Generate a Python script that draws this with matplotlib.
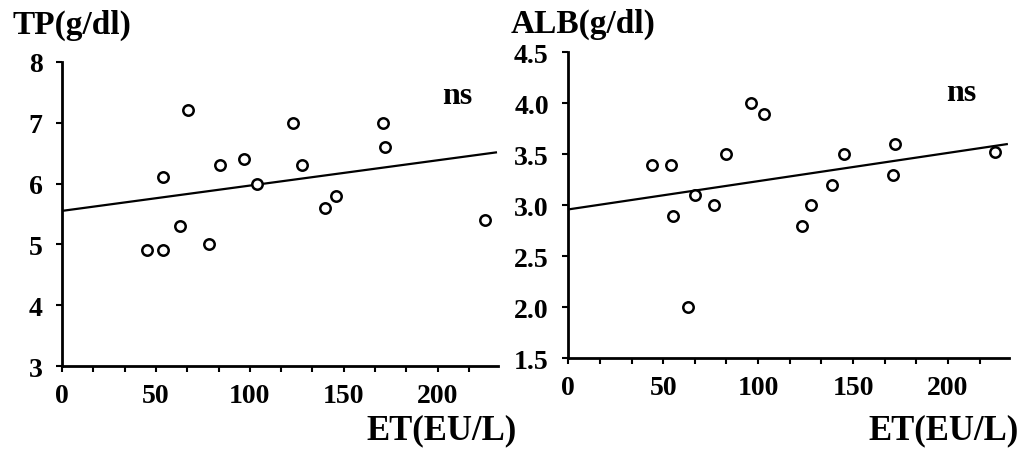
import matplotlib.pyplot as plt
import numpy as np

plt.rcParams['font.family'] = ['Liberation Serif', 'DejaVu Serif']
plt.rcParams['font.weight'] = 'bold'

# ET (EU/L) vs total protein
tp_et = [45, 54, 54, 63, 67, 78, 84, 97, 104, 123, 128, 140, 146, 171, 172, 225]
tp_val = [4.9, 4.9, 6.1, 5.3, 7.2, 5.0, 6.3, 6.4, 6.0, 7.0, 6.3, 5.6, 5.8, 7.0, 6.6, 5.4]
tp_fit = (5.55, 0.00416)  # intercept, slope

# ET (EU/L) vs albumin
alb_et = [44, 54, 55, 63, 67, 77, 83, 96, 103, 123, 128, 139, 145, 171, 172, 225]
alb_val = [3.4, 3.4, 2.9, 2.0, 3.1, 3.0, 3.5, 4.0, 3.9, 2.8, 3.0, 3.2, 3.5, 3.3, 3.6, 3.52]
alb_fit = (2.96, 0.00277)

tp_ticks = [3, 4, 5, 6, 7, 8]
alb_ticks = [1.5, 2.0, 2.5, 3.0, 3.5, 4.0, 4.5]


def draw_panel(ax, et, vals, fit, yticks, ylabels, ns_pos):
    ax.plot(et, vals, 'o', mfc='white', mec='black', ms=7.5, mew=1.8, zorder=3)
    xs = np.array([0, 231])
    ax.plot(xs, fit[0] + fit[1] * xs, color='black', lw=1.6, zorder=2)
    ax.set_xlim(0, 232)
    ax.set_ylim(yticks[0], yticks[-1])
    xt = np.arange(0, 232, 50 / 3)
    ax.set_xticks(xt)
    ax.set_xticklabels([str(int(round(t))) if i % 3 == 0 else '' for i, t in enumerate(xt)])
    ax.set_yticks(yticks)
    ax.set_yticklabels(ylabels)
    for side in ['top', 'right']:
        ax.spines[side].set_visible(False)
    for side in ['left', 'bottom']:
        ax.spines[side].set_linewidth(2)
    ax.tick_params(axis='both', direction='out', length=4, width=1.5, labelsize=20)
    ax.tick_params(axis='x', pad=8)
    ax.tick_params(axis='y', pad=10)
    ax.text(ns_pos[0], ns_pos[1], 'ns', transform=ax.transAxes, fontsize=23,
            fontweight='bold', ha='center', va='center')


fig = plt.figure(figsize=(10.23, 4.52), dpi=100)
ax1 = fig.add_axes([0.0606, 0.188, 0.426, 0.673])
ax2 = fig.add_axes([0.5555, 0.205, 0.4305, 0.677])

draw_panel(ax1, tp_et, tp_val, tp_fit, tp_ticks, [str(t) for t in tp_ticks], (0.908, 0.89))
draw_panel(ax2, alb_et, alb_val, alb_fit, alb_ticks, ['%.1f' % t for t in alb_ticks], (0.892, 0.87))

fig.text(0.012, 0.925, 'TP(g/dl)', fontsize=24, fontweight='bold', ha='left', va='baseline')
fig.text(0.499, 0.928, 'ALB(g/dl)', fontsize=24, fontweight='bold', ha='left', va='baseline')
fig.text(0.358, 0.027, 'ET(EU/L)', fontsize=25, fontweight='bold', ha='left', va='baseline')
fig.text(0.849, 0.027, 'ET(EU/L)', fontsize=25, fontweight='bold', ha='left', va='baseline')

fig.savefig('out.png', dpi=100)
